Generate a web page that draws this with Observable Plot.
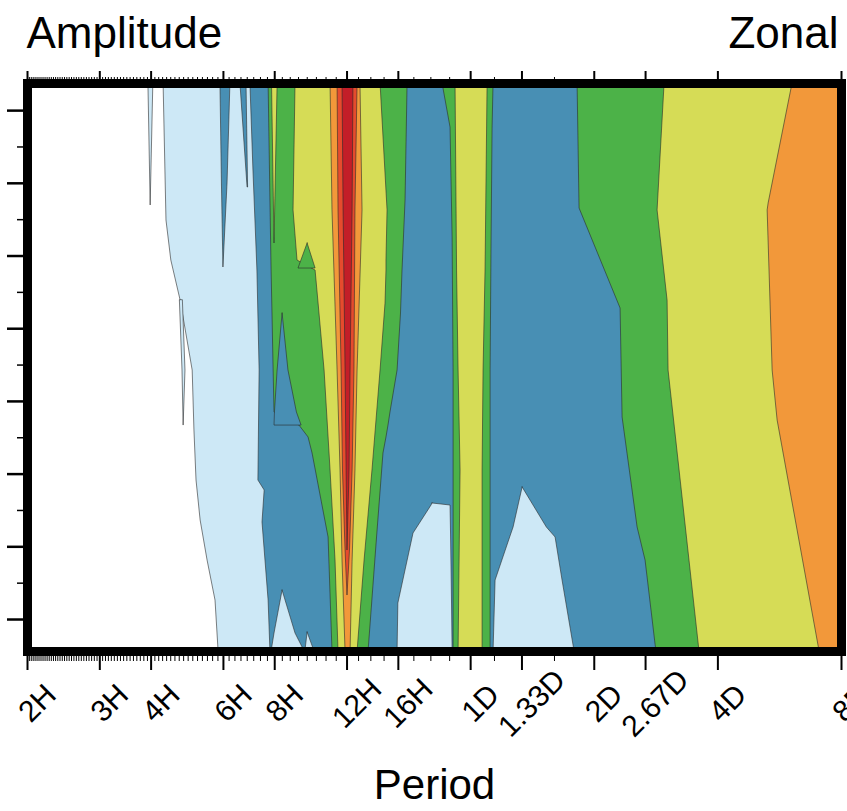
<!DOCTYPE html>
<html><head><meta charset="utf-8">
<script src="https://cdn.jsdelivr.net/npm/d3@7"></script>
<script src="https://cdn.jsdelivr.net/npm/@observablehq/plot@0.6"></script>
<style>body{margin:0;background:#fff;} #chart svg{display:block}</style>
</head><body><div id="chart"></div>
<script>
// X axis: period in hours (log), Y axis: unlabeled level (ticks 1..8)
const periodTicks = [2, 3, 4, 6, 8, 12, 16, 24, 32, 48, 64, 96, 192];
const periodLabels = ["2H","3H","4H","6H","8H","12H","16H","1D","1.33D","2D","2.67D","4D","8D"];
const yTicks = [1, 2, 3, 4, 5, 6, 7, 8];
const yMinorTicks = [1.5, 2.5, 3.5, 4.5, 5.5, 6.5, 7.5];

// contour-band polygons: rows of [y, periodLeft, periodRight]
const lightBlueAreas = [
  [[8.373,4.29,192],[6.489,4.36,192],[5.938,4.48,192],[5.387,4.72,192],[4.425,5.05,192],[3.600,5.10,192],[2.912,5.16,192],[2.362,5.28,192],[1.811,5.49,192],[1.261,5.74,192],[0.56,5.84,192]],
  [[8.373,3.94,4.05],[6.695,3.99,3.99]],
  [[5.387,4.70,4.78],[4.425,4.77,4.85],[3.668,4.80,4.80]]
];
const blueAreas = [
  [[8.373,6.98,192],[7.176,7.10,192],[5.800,7.26,192],[4.425,7.35,192],[2.912,7.30,192],[2.775,7.56,192],[2.334,7.47,192],[1.261,7.73,192],[0.56,7.81,192]],
  [[8.373,5.90,6.24],[6.997,5.95,6.14],[5.842,6.00,6.00]],
  [[8.373,6.60,6.83],[6.942,6.87,6.89]]
];
const lightBlueHoles = [
  [[1.398,8.36,8.36],[0.807,7.99,8.99],[0.56,7.86,9.46]],
  [[0.821,9.62,9.62],[0.56,9.50,10.0]],
  [[2.596,19.38,19.38],[2.568,19.27,21.44],[2.183,17.42,21.50],[1.220,16.00,21.62],[0.56,15.93,21.69]],
  [[2.816,32.12,32.12],[2.265,30.53,36.80],[2.128,29.95,38.64],[1.536,27.60,40.18],[0.56,27.29,42.98]]
];
const greenAreas = [
  [[8.373,7.73,16.85],[6.764,7.81,16.66],[5.800,7.86,16.38],[5.209,7.90,16.24],[4.425,7.95,15.93],[3.847,7.99,15.31],[3.668,9.19,15.14],[3.504,9.67,14.97],[3.284,9.89,14.72],[2.128,10.82,14.20],[0.56,11.06,13.54]],
  [[8.373,20.50,27.29],[7.767,21.44,27.14],[6.255,21.69,26.99],[4.425,21.81,26.84],[0.56,21.81,26.84]],
  [[8.373,43.71,192],[6.654,44.20,192],[5.278,55.63,192],[3.779,56.26,192],[2.265,61.20,192],[1.811,64.00,192],[0.56,68.0,192]]
];
const blueSpikes = [
  [[5.209,8.36,8.36],[4.425,8.13,8.64],[3.847,8.01,9.06],[3.668,7.99,9.30]]
];
const yellowAreas = [
  [[8.373,8.99,14.48],[6.627,8.89,15.06],[5.938,9.09,14.97],[5.800,10.06,14.97],[5.346,10.23,14.89],[4.425,10.58,14.48],[3.050,10.94,13.84],[1.811,11.25,13.24],[0.56,11.44,12.73]],
  [[8.373,7.88,8.13],[6.172,7.99,7.99]],
  [[8.373,22.05,26.39],[5.800,22.24,26.09],[4.425,22.43,25.80],[3.050,22.68,25.66],[0.56,22.43,25.66]],
  [[8.373,71.20,192],[6.627,68.46,192],[5.387,72.41,192],[4.425,72.81,192],[0.56,86.6,192]]
];
const greenNotches = [
  [[6.172,9.62,9.62],[5.828,9.14,10.06]]
];
const orangeAreas = [
  [[8.373,10.94,12.94],[6.627,11.06,13.09],[4.425,11.38,12.73],[3.050,11.57,12.58],[1.811,11.70,12.38],[0.56,11.90,12.24]],
  [[8.373,145.9,192],[6.723,127.6,192],[6.627,126.9,192],[4.425,130.5,192],[3.737,134.2,192],[0.56,169.8,192]]
];
const orangeRedAreas = [
  [[8.373,11.38,12.73],[6.627,11.44,12.58],[4.425,11.64,12.51],[3.050,11.73,12.38],[1.949,11.90,12.20],[1.330,12.03,12.03]]
];
const redAreas = [
  [[8.373,11.70,12.44],[6.627,11.77,12.38],[4.425,11.90,12.24],[3.050,11.97,12.17],[1.949,12.03,12.03]]
];

const colors = {
  lightBlue: "#cde8f6", blue: "#488fb4", green: "#4cb248", yellow: "#d6dc56",
  orange: "#f2983a", orangeRed: "#e64b2d", red: "#c31e28"
};

// painter order
const layers = [
  [lightBlueAreas, colors.lightBlue],
  [blueAreas, colors.blue],
  [lightBlueHoles, colors.lightBlue],
  [greenAreas, colors.green],
  [blueSpikes, colors.blue],
  [yellowAreas, colors.yellow],
  [greenNotches, colors.green],
  [orangeAreas, colors.orange],
  [orangeRedAreas, colors.orangeRed],
  [redAreas, colors.red]
];

const areaMarks = layers.map(([polys, color], li) => {
  const rows = polys.flatMap((poly, ai) => poly.map(([y, x1, x2]) => ({id: li + "-" + ai, y, x1, x2})));
  return Plot.areaX(rows, {y: "y", x1: "x1", x2: "x2", z: "id", fill: color,
    stroke: "#2a2a2a", strokeWidth: 0.7, strokeOpacity: 0.85, clip: true});
});

const minorPeriods = d3.range(1, 97).map(k => 192 / k).filter(p => !periodTicks.includes(p));

const chart = Plot.plot({
  width: 847, height: 811,
  marginLeft: 27, marginRight: 6, marginTop: 83, marginBottom: 160,
  style: {fontFamily: "'Liberation Sans', Arial, Helvetica, sans-serif", background: "white"},
  x: {type: "log", domain: [2, 192]},
  y: {domain: [0.56, 8.373]},
  marks: [
    ...areaMarks,
    Plot.axisX({anchor: "bottom", ticks: minorPeriods, tickSize: 10, tickFormat: () => "", label: null, strokeWidth: 1}),
    Plot.axisX({anchor: "bottom", ticks: periodTicks, tickSize: 19, tickFormat: () => "", label: null, strokeWidth: 2}),
    Plot.axisX({anchor: "top", ticks: minorPeriods, tickSize: 7, tickFormat: () => "", label: null, strokeWidth: 1}),
    Plot.axisX({anchor: "top", ticks: periodTicks, tickSize: 13, tickFormat: () => "", label: null, strokeWidth: 2}),
    Plot.axisY({anchor: "left", ticks: yMinorTicks, tickSize: 10, tickFormat: () => "", label: null, strokeWidth: 1.5}),
    Plot.axisY({anchor: "left", ticks: yTicks, tickSize: 20, tickFormat: () => "", label: null, strokeWidth: 2.5}),
    Plot.text(periodTicks, {x: d => d, text: (d, i) => periodLabels[i], frameAnchor: "bottom",
      dx: 10, dy: 52, rotate: -45, textAnchor: "middle", lineAnchor: "middle", fontSize: 30, fill: "black"}),
    Plot.text(["Amplitude"], {frameAnchor: "top-left", textAnchor: "start", lineAnchor: "bottom", dx: -1, dy: -36, fontSize: 44, fill: "black"}),
    Plot.text(["Zonal"], {frameAnchor: "top-right", textAnchor: "end", lineAnchor: "bottom", dx: -3, dy: -36, fontSize: 44, fill: "black"}),
    Plot.text(["Period"], {frameAnchor: "bottom", textAnchor: "middle", lineAnchor: "bottom", dy: 147, fontSize: 42, fill: "black"}),
    Plot.frame({stroke: "black", strokeWidth: 9})
  ]
});
document.getElementById("chart").appendChild(chart);
</script>
</body></html>
